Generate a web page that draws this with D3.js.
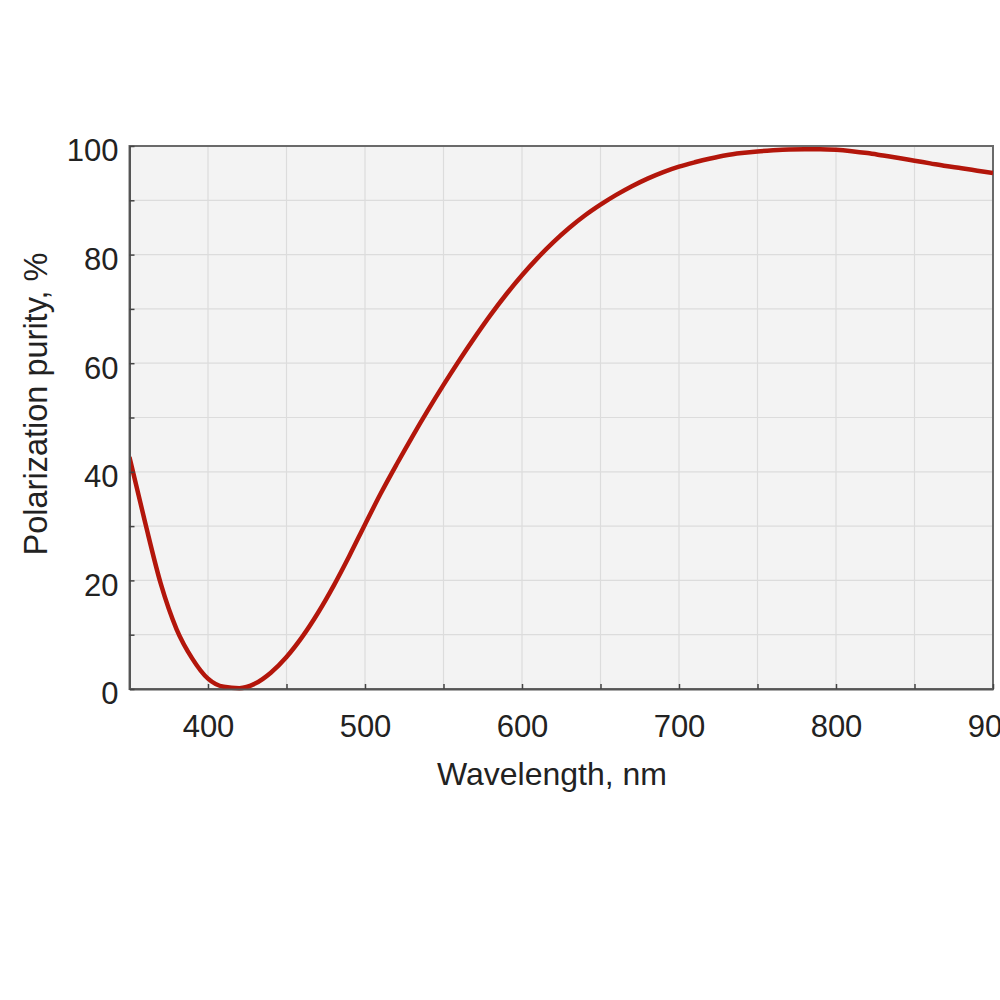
<!DOCTYPE html>
<html>
<head>
<meta charset="utf-8">
<script src="https://cdn.jsdelivr.net/npm/d3@7"></script>
<style>
  body { margin: 0; background: #fff; }
  text { font-family: "Liberation Sans", Arial, sans-serif; fill: #222; }
</style>
</head>
<body>
<div id="chart"></div>
<script>
// data
const wavelengths = [350, 360, 370, 380, 390, 400, 410, 420, 430, 440, 450, 460, 470, 480, 490,
  500, 510, 520, 530, 540, 550, 560, 570, 580, 590, 600, 610, 620, 630, 640, 650, 660, 670, 680, 690,
  700, 710, 720, 730, 740, 750, 760, 770, 780, 790, 800, 810, 820, 830, 840, 850, 860, 870, 880, 890, 900];
const purity = [42.7, 30.6, 19.3, 11.0, 5.6, 1.9, 0.4, 0.15, 1.0, 3.0, 5.9, 9.6, 14.0, 19.0, 24.5,
  30.3, 36.0, 41.3, 46.4, 51.3, 56.0, 60.5, 64.8, 68.9, 72.7, 76.2, 79.4, 82.3, 84.9, 87.2, 89.2, 91.0, 92.6, 94.0, 95.2,
  96.2, 97.0, 97.7, 98.3, 98.7, 99.0, 99.2, 99.35, 99.4, 99.4, 99.3, 99.05, 98.7, 98.25, 97.8, 97.3, 96.8, 96.3, 95.9, 95.45, 95.0];

const xLabels = [400, 500, 600, 700, 800, 900];
const yLabels = [0, 20, 40, 60, 80, 100];
const xTitle = "Wavelength, nm";
const yTitle = "Polarization purity, %";

const width = 1000, height = 1000;
const plot = { left: 129.5, right: 993, top: 146, bottom: 689 };

const svg = d3.select("#chart")
  .append("svg")
  .attr("width", width)
  .attr("height", height);

svg.append("rect").attr("width", width).attr("height", height).attr("fill", "#fff");

const x = d3.scaleLinear().domain([350, 900]).range([plot.left, plot.right]);
const y = d3.scaleLinear().domain([0, 100]).range([plot.bottom, plot.top]);

// plot background
svg.append("rect")
  .attr("x", plot.left).attr("y", plot.top)
  .attr("width", plot.right - plot.left).attr("height", plot.bottom - plot.top)
  .attr("fill", "#f3f3f3");

// grid
svg.append("g")
  .selectAll("line")
  .data(d3.range(400, 900, 50))
  .join("line")
  .attr("x1", d => x(d)).attr("x2", d => x(d))
  .attr("y1", plot.top).attr("y2", plot.bottom)
  .attr("stroke", "#dcdcdc").attr("stroke-width", 1.2);

svg.append("g")
  .selectAll("line")
  .data(d3.range(10, 100, 10))
  .join("line")
  .attr("x1", plot.left).attr("x2", plot.right)
  .attr("y1", d => y(d)).attr("y2", d => y(d))
  .attr("stroke", "#dcdcdc").attr("stroke-width", 1.2);

// frame
svg.append("rect")
  .attr("x", plot.left).attr("y", plot.top)
  .attr("width", plot.right - plot.left).attr("height", plot.bottom - plot.top)
  .attr("fill", "none")
  .attr("stroke", "#6a6a6a").attr("stroke-width", 2);

// curve
svg.append("clipPath").attr("id", "clip")
  .append("rect")
  .attr("x", plot.left).attr("y", plot.top - 5)
  .attr("width", plot.right - plot.left).attr("height", plot.bottom - plot.top + 10);

const line = d3.line()
  .x((d, i) => x(wavelengths[i]))
  .y(d => y(d))
  .curve(d3.curveMonotoneX);

svg.append("path")
  .datum(purity)
  .attr("clip-path", "url(#clip)")
  .attr("d", line)
  .attr("fill", "none")
  .attr("stroke", "#b3160b")
  .attr("stroke-width", 4.5)
  .attr("stroke-linejoin", "round");

// axes
const xAxis = d3.axisBottom(x)
  .tickValues(d3.range(350, 901, 50))
  .tickSize(-5)
  .tickSizeOuter(0)
  .tickPadding(26)
  .tickFormat(d => xLabels.includes(d) ? d : "");

const yAxis = d3.axisLeft(y)
  .tickValues(d3.range(0, 101, 10))
  .tickSize(-5)
  .tickSizeOuter(0)
  .tickPadding(11)
  .tickFormat(d => yLabels.includes(d) ? d : "");

const gx = svg.append("g")
  .attr("transform", `translate(0,${plot.bottom})`)
  .call(xAxis);

const gy = svg.append("g")
  .attr("transform", `translate(${plot.left},0)`)
  .call(yAxis);

[gx, gy].forEach(g => {
  g.select(".domain").attr("stroke", "#555").attr("stroke-width", 2);
  g.selectAll(".tick line").attr("stroke", "#444").attr("stroke-width", 1.5);
  g.selectAll(".tick text")
    .attr("fill", "#222")
    .style("font-family", '"Liberation Sans", Arial, sans-serif')
    .style("font-size", "31px");
});
gy.selectAll(".tick text").attr("dy", "0.48em");

// titles
svg.append("text")
  .attr("x", 552)
  .attr("y", 785)
  .attr("text-anchor", "middle")
  .style("font-size", "32px")
  .text(xTitle);

svg.append("text")
  .attr("transform", "translate(47,404) rotate(-90)")
  .attr("text-anchor", "middle")
  .style("font-size", "32.5px")
  .text(yTitle);
</script>
</body>
</html>
